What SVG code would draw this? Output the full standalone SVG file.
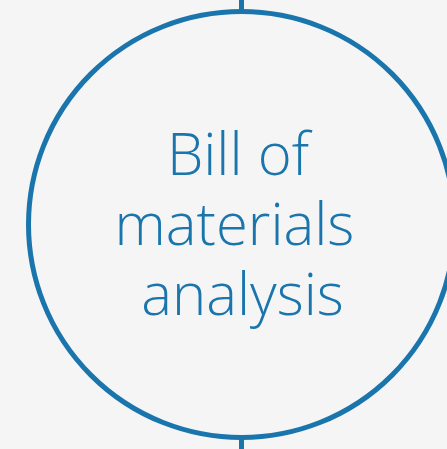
<svg xmlns="http://www.w3.org/2000/svg" width="447" height="449" viewBox="0 0 447 449">
<style>
.c{fill:none;stroke:#1a75ad;stroke-width:5}
.l{stroke:#1a75ad;stroke-width:5}
.t{font-family:"Open Sans","Noto Sans",sans-serif;font-weight:300;font-size:58px;fill:#1a75ad;text-anchor:middle}
</style>
<rect width="447" height="449" fill="#f5f5f5"/>
<g id="connectors">
<line class="l" x1="241.5" y1="0" x2="241.5" y2="12"/>
<line class="l" x1="241.5" y1="437" x2="241.5" y2="449"/>
</g>
<g id="node-bom">
<circle class="c" cx="241.5" cy="224.5" r="213"/>
<text class="t" x="238" y="175">Bill of</text>
<text class="t" x="234.5" y="245">materials</text>
<text class="t" x="242.5" y="315">analysis</text>
</g>
</svg>
